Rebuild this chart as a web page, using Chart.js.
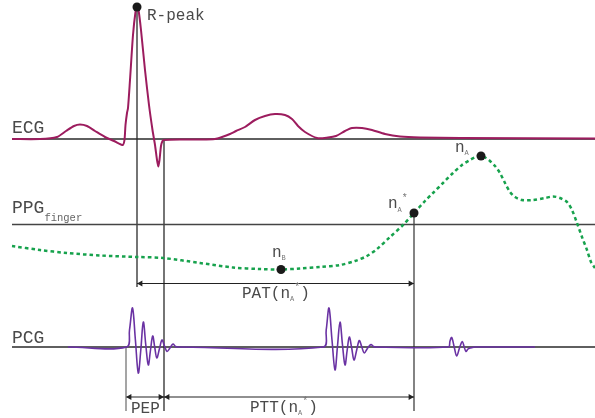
<!DOCTYPE html>
<html>
<head>
<meta charset="utf-8">
<script src="https://cdn.jsdelivr.net/npm/chart.js@4"></script>
<style>
  html, body { margin: 0; background: #fff; }
  canvas { display: block; }
</style>
</head>
<body>
<canvas id="fig" width="595" height="418"></canvas>
<script>
// eje x: tiempo (unidades arbitrarias), eje y: amplitud de cada señal, apiladas
const ecgTrace = [[12,139],[40,139],[57,137],[66,131],[74,126],[80,124.5],[87,126],[95,131],[105,137],
  [114,141],[121,144.5],[123,145],[124.5,140],[125.5,125],[127,113],[128,108],[130,80],[133,35],
  [135.5,12],[137,7],[138.5,10],[141,30],[145,70],[149,105],[152.5,130],[155,145],[157,160],
  [158.3,166.5],[159.5,160],[161,146],[162.5,141],[164,140],[180,139.5],[200,139.5],[215,139],
  [222,137],[230,134],[236,131],[245,127],[255,120],[265,116],[275,114],[285,115],[292,119],
  [298,126],[305,132],[317,138],[328,137.5],[336,136],[345,131],[352,128],[362,128],[372,130],
  [385,134],[400,136.5],[420,137.5],[460,138],[595,138.5]];

const ppgTrace = [[12,246],[40,250],[67,253],[100,255.5],[138,257],[163,258],[200,263],[233,267.5],
  [260,269],[281,269.5],[300,268.5],[320,267],[340,265],[355,261],[367,256],[377,249],[390,237],
  [403,225],[414,213],[425,201],[433,193],[443,183],[453,173],[462,165],[470,160],[476,157],
  [481,156],[486,158],[490,161],[495,166],[500,173],[505,183],[510,192],[515,197],[522,200],
  [533,200],[545,198],[553,196.5],[560,198],[567,202],[572,210],[577,223],[582,237],[587,250],
  [591,262],[595,268]];

const pcgTrace = [[68,347],[126.5,347],[129.5,330],[132.5,308],[135.4,340],[138.3,373],[140.8,350],
  [143.3,322],[145.8,345],[148.3,365],[150.5,350],[152.7,336],[154.7,347],[156.8,358],[159.4,349],
  [162,340],[164.5,346],[167,351.5],[170,348],[173,344],[175.5,346.5],[178,347],
  [323.3,347],[326.2,330],[329,308],[332,340],[335,370],[337.5,346],[340,322],[342.5,345],
  [345,365],[347.2,350],[349.3,337],[351.7,348],[354,360],[356.7,350],[359.3,340.5],[361.8,347],
  [364.3,353],[367.7,348],[371,344.5],[373.5,346.5],[376,347],
  [448.3,347],[450,341],[451.7,337.5],[454.2,347],[456.7,356],[459.5,348],[462.3,341.5],
  [464.2,347],[466,351.5],[468,349],[470,348],[472.5,347.5],[475,347],[535,347]];

const baselineY = { ecg: 139, ppg: 224.5, pcg: 347 };
const rPeak = [137, 7];
const nA = [481, 156];
const nAStar = [414, 213];
const nB = [281, 269.5];
const sEnd = [164, 140];
const pcgOnset = [126, 347];

// intervalos: [inicio, fin, altura]
const patInterval = [137, 414, 283.5];
const pepInterval = [126, 164, 397];
const pttInterval = [164, 414, 397];

const xy = pts => pts.map(p => ({ x: p[0], y: p[1] }));

function trazo(pts, color, width, extra) {
  return Object.assign({
    type: 'line',
    data: xy(pts),
    borderColor: color,
    borderWidth: width,
    pointRadius: 0,
    fill: false,
    tension: 0,
    order: 3
  }, extra || {});
}

// puntas de flecha
const headR = 3.6;
const heads = [], headRot = [];
[patInterval, pepInterval, pttInterval].forEach(iv => {
  heads.push([iv[0] + headR, iv[2]]); headRot.push(270);
  heads.push([iv[1] - headR, iv[2]]); headRot.push(90);
});

const datasets = [
  // marcadores
  { type: 'scatter', data: xy([rPeak, nA, nAStar, nB]), pointRadius: 4.5, pointBackgroundColor: '#1a1a1a',
    pointBorderWidth: 0, order: 0 },
  { type: 'scatter', data: xy(heads), pointStyle: 'triangle', rotation: headRot, pointRadius: headR,
    pointBackgroundColor: '#222', pointBorderWidth: 0, order: 1 },
  // señales
  trazo(ecgTrace, '#9c1c5e', 2, { tension: 0.25, order: 2 }),
  trazo(ppgTrace, '#17a24d', 2.5, { tension: 0.3, borderDash: [3.5, 3], order: 2 }),
  trazo(pcgTrace, '#6a32a3', 1.6, { tension: 0.35, order: 2 }),
  // líneas base
  trazo([[12, baselineY.ecg], [595, baselineY.ecg]], '#2a2a2a', 1.3),
  trazo([[12, baselineY.ppg], [595, baselineY.ppg]], '#444', 1.3),
  trazo([[12, baselineY.pcg], [595, baselineY.pcg]], '#2a2a2a', 1.3),
  // verticales
  trazo([rPeak, [rPeak[0], 287]], '#1a1a1a', 1.2),
  trazo([sEnd, [sEnd[0], 411]], '#1a1a1a', 1.2),
  trazo([nAStar, [nAStar[0], 411]], '#333', 1.2),
  trazo([pcgOnset, [pcgOnset[0], 411]], '#888', 1.5),
  // intervalos
  trazo([[patInterval[0], patInterval[2]], [patInterval[1], patInterval[2]]], '#222', 1.2),
  trazo([[pepInterval[0], pepInterval[2]], [pepInterval[1], pepInterval[2]]], '#222', 1.2),
  trazo([[pttInterval[0], pttInterval[2]], [pttInterval[1], pttInterval[2]]], '#222', 1.2)
];

// textos: [texto, tamaño, desplazamiento vertical, color]
const rotulos = [
  { x: 12, y: 133, parts: [['ECG', 18]] },
  { x: 12, y: 213, parts: [['PPG', 18], ['finger', 10.5, 8, '#666']] },
  { x: 12, y: 343, parts: [['PCG', 18]] },
  { x: 147, y: 20, parts: [['R-peak', 16]] },
  { x: 455, y: 152, parts: [['n', 16], ['A', 7, 3, '#777']] },
  { x: 388, y: 208, parts: [['n', 16], ['A', 7, 4, '#777'], ['*', 10, -7, '#777']] },
  { x: 272, y: 257, parts: [['n', 16], ['B', 7, 3, '#777']] },
  { x: 242, y: 298, parts: [['PAT(n', 16], ['A', 7, 3, '#777'], ['*', 10, -8, '#777'], [')', 16]] },
  { x: 131, y: 413, parts: [['PEP', 16]] },
  { x: 250, y: 412, parts: [['PTT(n', 16], ['A', 7, 3, '#777'], ['*', 10, -8, '#777'], [')', 16]] }
];

const textosPlugin = {
  id: 'textos',
  afterDatasetsDraw(chart) {
    const ctx = chart.ctx;
    const sx = chart.scales.x, sy = chart.scales.y;
    ctx.save();
    ctx.textBaseline = 'alphabetic';
    rotulos.forEach(r => {
      let px = sx.getPixelForValue(r.x);
      const py = sy.getPixelForValue(r.y);
      r.parts.forEach(p => {
        ctx.font = p[1] + 'px "Liberation Mono", "Courier New", monospace';
        ctx.fillStyle = p[3] || '#4a4a4a';
        ctx.fillText(p[0], px, py + (p[2] || 0));
        px += ctx.measureText(p[0]).width;
      });
    });
    ctx.restore();
  }
};

new Chart(document.getElementById('fig'), {
  data: { datasets: datasets },
  options: {
    responsive: false,
    animation: false,
    events: [],
    layout: { padding: 0, autoPadding: false },
    plugins: { legend: { display: false }, tooltip: { enabled: false } },
    scales: {
      x: { type: 'linear', min: 0, max: 595, display: false },
      y: { type: 'linear', min: 0, max: 418, reverse: true, display: false }
    }
  },
  plugins: [textosPlugin]
});
</script>
</body>
</html>
